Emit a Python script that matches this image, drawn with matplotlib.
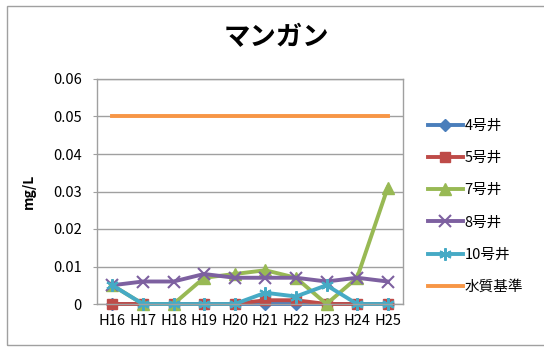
import matplotlib
matplotlib.use('Agg')
import matplotlib.pyplot as plt
from matplotlib.patches import Rectangle

plt.rcParams['font.family'] = ['Noto Sans CJK JP', 'DejaVu Sans']

# data (mg/L)
years = ['H16', 'H17', 'H18', 'H19', 'H20', 'H21', 'H22', 'H23', 'H24', 'H25']
well4 = [0, 0, 0, 0, 0, 0, 0, 0, 0, 0]
well5 = [0, 0, 0, 0, 0, 0.001, 0.001, 0, 0, 0]
well7 = [0.005, 0, 0, 0.007, 0.008, 0.009, 0.007, 0, 0.007, 0.031]
well8 = [0.005, 0.006, 0.006, 0.008, 0.007, 0.007, 0.007, 0.006, 0.007, 0.006]
well10 = [0.005, 0, 0, 0, 0, 0.003, 0.002, 0.005, 0, 0]
standard = [0.05] * 10

series = [
    ('4号井', well4, '#4a7ebb', 'D', 6),
    ('5号井', well5, '#be4b48', 's', 7),
    ('7号井', well7, '#98b954', '^', 8),
    ('8号井', well8, '#7d60a0', 'x', 8),
    ('10号井', well10, '#46aac5', (6, 2, 0), 9),
    ('水質基準', standard, '#f79646', None, 0),
]

W, H = 544, 347
fig = plt.figure(figsize=(W / 100, H / 100), dpi=100)
ax = fig.add_axes([97 / W, 1 - 304 / H, 306 / W, 225 / H])

xs = [i + 0.5 for i in range(len(years))]
for name, vals, color, marker, ms in series:
    ax.plot(xs, vals, color=color, lw=2.8, marker=marker, markersize=ms,
            markeredgewidth=1.5 if marker in ('x', (6, 2, 0)) else 1,
            label=name, clip_on=False)

ax.set_xlim(0, 10)
ax.set_ylim(0, 0.06)
ax.set_xticks(xs)
ax.set_xticklabels(years, fontsize=10.5)
ax.set_yticks([0, 0.01, 0.02, 0.03, 0.04, 0.05, 0.06])
ax.set_yticklabels(['0', '0.01', '0.02', '0.03', '0.04', '0.05', '0.06'], fontsize=10.5)
ax.tick_params(axis='x', length=0, pad=7)
ax.tick_params(axis='y', length=3, color='#a0a0a0', pad=8)
ax.grid(axis='y', color='#a0a0a0', lw=1)
ax.set_axisbelow(True)
for s in ax.spines.values():
    s.set_color('#a0a0a0')
    s.set_linewidth(1)

ax.set_ylabel('mg/L', fontsize=10, fontweight='bold', labelpad=12)
fig.text(276 / W, 1 - 38 / H, 'マンガン', fontsize=19, fontweight='bold',
         ha='center', va='center')

fig.legend(loc='upper left', bbox_to_anchor=(422 / W, 1 - 113 / H),
           frameon=False, fontsize=10.5, handlelength=2.4, handletextpad=0.1,
           labelspacing=1.25, borderaxespad=0)

fig.patches.append(Rectangle((7 / W, 1 - 345 / H), (W + 5) / W, 339 / H,
                             transform=fig.transFigure, fill=False,
                             edgecolor='#a0a0a0', lw=1))

plt.savefig('out.png', dpi=100)
